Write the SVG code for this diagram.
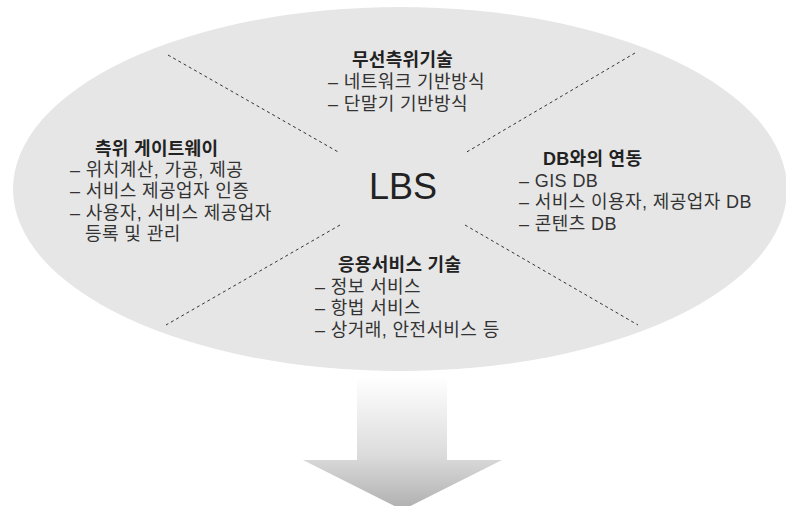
<svg xmlns="http://www.w3.org/2000/svg" width="786" height="506" viewBox="0 0 786 506">
  <defs>
    <linearGradient id="arrowGrad" gradientUnits="userSpaceOnUse" x1="0" y1="377" x2="0" y2="506">
      <stop offset="0" stop-color="#ffffff"/>
      <stop offset="0.6" stop-color="#dcdcdc"/>
      <stop offset="1" stop-color="#b2b2b2"/>
    </linearGradient>
  </defs>
  <style>
    text { font-family: "Liberation Sans", "Noto Sans CJK KR", sans-serif; }
    .title { font-size: 18px; font-weight: bold; fill: #222; letter-spacing: 0.3px; }
    .item { font-size: 18px; fill: #333; letter-spacing: 0.4px; }
    .big { font-size: 36px; fill: #222; }
    .sep { stroke: #333; stroke-width: 1; stroke-dasharray: 3 3; fill: none; }
  </style>
  <rect width="786" height="506" fill="#ffffff"/>
  <g id="lbs-ellipse">
    <ellipse cx="400" cy="189" rx="387" ry="182" fill="#e6e6e6"/>
  </g>
  <g id="connectors">
    <line class="sep" x1="168" y1="55" x2="340" y2="153"/>
    <line class="sep" x1="635" y1="53" x2="465" y2="153"/>
    <line class="sep" x1="340" y1="225" x2="166" y2="325"/>
    <line class="sep" x1="465" y1="225" x2="638" y2="325"/>
  </g>
  <g id="node-lbs">
    <text class="big" x="369" y="199">LBS</text>
  </g>
  <g id="node-positioning">
    <text class="title" x="352" y="66">무선측위기술</text>
    <text class="item" x="328" y="88">– 네트워크 기반방식</text>
    <text class="item" x="328" y="110">– 단말기 기반방식</text>
  </g>
  <g id="node-gateway">
    <text class="title" x="95" y="155">측위 게이트웨이</text>
    <text class="item" x="70" y="176">– 위치계산, 가공, 제공</text>
    <text class="item" x="70" y="197">– 서비스 제공업자 인증</text>
    <text class="item" x="70" y="219">– 사용자, 서비스 제공업자</text>
    <text class="item" x="85" y="240">등록 및 관리</text>
  </g>
  <g id="node-db">
    <text class="title" x="543" y="165">DB와의 연동</text>
    <text class="item" x="519" y="187">– GIS DB</text>
    <text class="item" x="519" y="208">– 서비스 이용자, 제공업자 DB</text>
    <text class="item" x="519" y="230">– 콘텐츠 DB</text>
  </g>
  <g id="node-application">
    <text class="title" x="338" y="271">응용서비스 기술</text>
    <text class="item" x="315" y="293">– 정보 서비스</text>
    <text class="item" x="315" y="314">– 항법 서비스</text>
    <text class="item" x="315" y="336">– 상거래, 안전서비스 등</text>
  </g>
  <g id="arrow-down">
    <polygon points="357,377 447,377 447,460 502,460 402.5,510 303,460 357,460" fill="url(#arrowGrad)"/>
  </g>
</svg>
